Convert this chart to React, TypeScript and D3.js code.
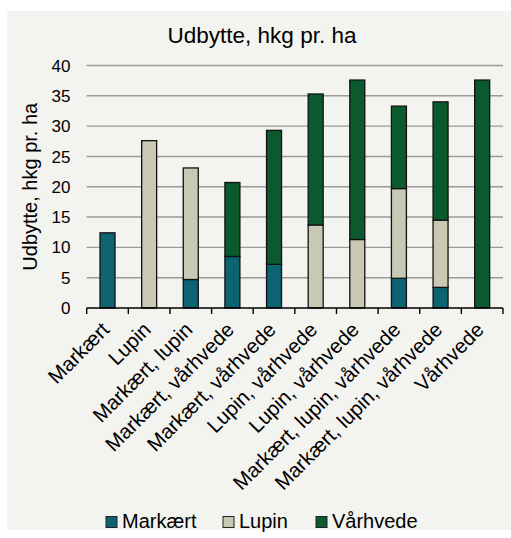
import React from 'react';
import * as d3 from 'd3';

const categories = [
  'Markært', 'Lupin', 'Markært, lupin', 'Markært, vårhvede', 'Markært, vårhvede',
  'Lupin, vårhvede', 'Lupin, vårhvede', 'Markært, lupin, vårhvede', 'Markært, lupin, vårhvede', 'Vårhvede',
];
const markaert = [12.4, 0, 4.7, 8.5, 7.2, 0, 0, 4.9, 3.4, 0];
const lupin = [0, 27.6, 18.4, 0, 0, 13.7, 11.3, 14.8, 11.1, 0];
const vaarhvede = [0, 0, 0, 12.2, 22.1, 21.6, 26.3, 13.6, 19.5, 37.6];
const seriesNames = ['Markært', 'Lupin', 'Vårhvede'];
const seriesColors = ['#0c6472', '#c9c9b3', '#0b5a2d'];
const yTicks = [0, 5, 10, 15, 20, 25, 30, 35, 40];

const FONT = '"Liberation Sans", Arial, sans-serif';

export default function App() {
  const width = 511;
  const height = 538;
  const left = 86.7;
  const right = 503;
  const top = 65.5;
  const bottom = 308;

  // index keys so duplicate category names get their own band
  const x = d3.scaleBand<number>()
    .domain(categories.map((_, i) => i))
    .range([left, right])
    .padding(0);
  const y = d3.scaleLinear().domain([0, 40]).range([bottom, top]);

  const rows = categories.map((c, i) => ({
    idx: i,
    Markært: markaert[i],
    Lupin: lupin[i],
    Vårhvede: vaarhvede[i],
  }));
  const stacked = d3.stack<any>().keys(seriesNames)(rows);

  const bw = x.bandwidth();
  const barW = bw * 0.36;

  const legendItems = [
    { name: 'Markært', sx: 106 },
    { name: 'Lupin', sx: 223 },
    { name: 'Vårhvede', sx: 316 },
  ];

  return (
    <svg width={width} height={height} style={{ position: 'absolute', left: 0, top: 0, fontFamily: FONT }}>
      <rect x={0} y={0} width={width} height={height} fill="#ffffff" />
      <rect x={7} y={11} width={width - 7} height={519} fill="#f3f3ef" />

      <text x={262} y={42.5} textAnchor="middle" fontSize={22.5} fill="#000">Udbytte, hkg pr. ha</text>

      {/* gridlines */}
      {yTicks.filter(t => t > 0).map(t => (
        <line key={t} x1={left} x2={right} y1={y(t)} y2={y(t)} stroke="#9a9a9a" strokeWidth={1.4} />
      ))}
      {yTicks.map(t => (
        <text key={'l' + t} x={70.5} y={y(t)} dy="0.36em" textAnchor="end" fontSize={17} fill="#000">{t}</text>
      ))}

      <text transform={`translate(37,${(top + bottom) / 2}) rotate(-90)`} textAnchor="middle" fontSize={20} fill="#000">
        Udbytte, hkg pr. ha
      </text>

      {/* bars */}
      {stacked.map((s, si) => (
        <g key={s.key}>
          {s.map((d, i) => (d[1] - d[0] > 0 ? (
            <rect
              key={i}
              x={x(i)! + (bw - barW) / 2}
              y={y(d[1])}
              width={barW}
              height={y(d[0]) - y(d[1])}
              fill={seriesColors[si]}
              stroke="#111"
              strokeWidth={1.3}
            />
          ) : null))}
        </g>
      ))}

      {/* x axis */}
      <line x1={left} x2={right} y1={bottom} y2={bottom} stroke="#000" strokeWidth={1.4} />
      {d3.range(categories.length + 1).map(i => {
        const tx = left + i * bw;
        return <line key={'t' + i} x1={tx} x2={tx} y1={bottom} y2={bottom + 6} stroke="#000" strokeWidth={1.4} />;
      })}
      {categories.map((c, i) => (
        <text
          key={'c' + i}
          transform={`translate(${x(i)! + bw / 2 + 3},${bottom + 23}) rotate(-45)`}
          textAnchor="end"
          fontSize={20.5}
          fill="#000"
        >
          {c}
        </text>
      ))}

      {/* legend */}
      {legendItems.map((it, i) => (
        <g key={it.name}>
          <rect x={it.sx} y={516.5} width={11} height={11} fill={seriesColors[i]} stroke="#222" strokeWidth={1} />
          <text x={it.sx + 16} y={527.7} fontSize={20} fill="#000">{it.name}</text>
        </g>
      ))}
    </svg>
  );
}
